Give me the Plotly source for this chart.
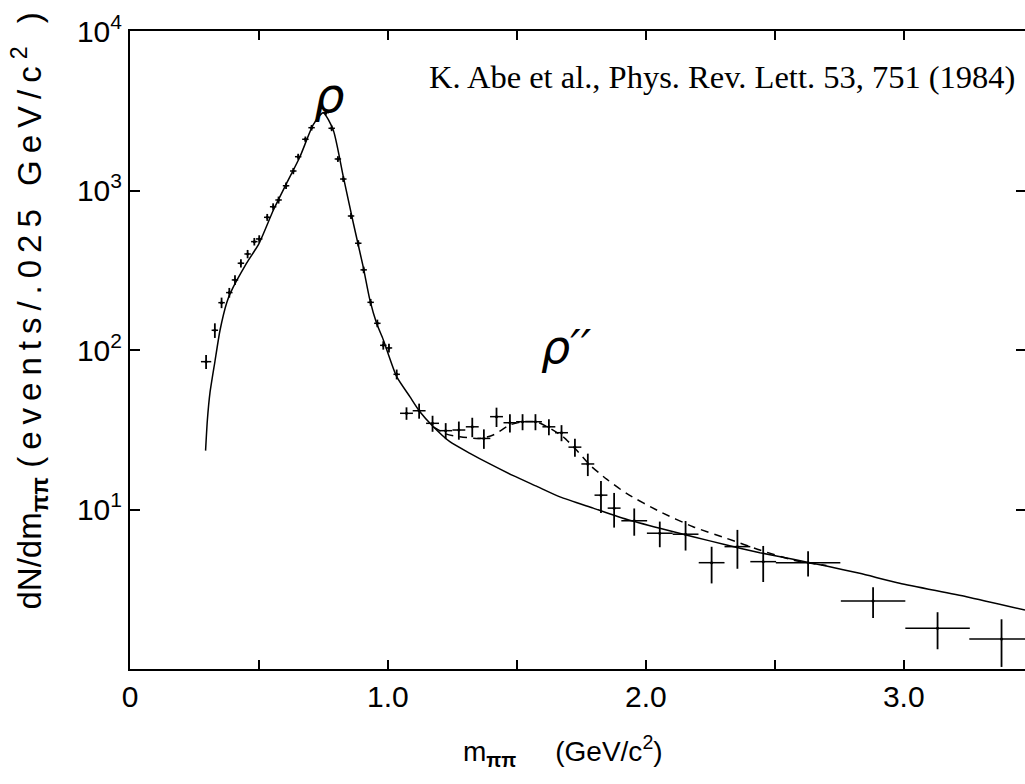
import plotly.graph_objects as go

# ---- data points (m_pipi in GeV/c^2, dN/dm) ----
mass = [0.295, 0.329, 0.355, 0.385, 0.407, 0.430, 0.456, 0.482, 0.501, 0.532,
        0.555, 0.576, 0.605, 0.633, 0.652, 0.680, 0.704, 0.759, 0.782, 0.806,
        0.827, 0.857, 0.885, 0.906, 0.933, 0.959, 0.982, 1.004, 1.034, 1.072,
        1.121, 1.173, 1.224, 1.275, 1.327, 1.372, 1.421, 1.473, 1.522, 1.572,
        1.624, 1.673, 1.725, 1.775, 1.826, 1.877, 1.955, 2.054, 2.154, 2.255,
        2.355, 2.455, 2.629, 2.881, 3.131, 3.379]
counts = [84.5, 133, 198, 229, 275, 350, 400, 478, 497, 679,
          791, 872, 1071, 1325, 1629, 2095, 2476, 3076, 2455, 1576,
          1180, 692, 467, 318, 199, 147, 107, 103, 70.4, 40.1,
          41.6, 34.7, 31.2, 31.5, 33.0, 27.9, 38.2, 35.0, 35.5, 35.5,
          33.0, 30.3, 24.6, 19.3, 12.3, 10.2, 8.5, 7.1, 7.0, 4.64,
          5.85, 4.71, 4.64, 2.67, 1.80, 1.54]
count_err = [8.5, 14, 15, 16, 19, 21, 24, 26, 27, 34,
             40, 44, 50, 60, 70, 85, 100, 120, 100, 65,
             50, 30, 21, 15, 10, 8, 6.5, 6.5, 5, 3.6,
             4.5, 4.0, 3.6, 4.1, 4.6, 3.9, 5.3, 4.6, 4.1, 4.1,
             3.8, 3.5, 3.2, 3.1, 2.8, 2.5, 1.65, 1.3, 1.47, 1.2,
             1.6, 1.2, 0.84, 0.58, 0.47, 0.51]
mass_err = [0.02] + [0.0125] * 28 + [0.025] * 17 + [0.05] * 6 + [0.125] * 4

# ---- fit curve without rho'' (solid) ----
fit_m = [0.293, 0.300, 0.310, 0.329, 0.349, 0.375, 0.390, 0.452, 0.500, 0.556,
         0.607, 0.659, 0.710, 0.749, 0.788, 0.827, 0.866, 0.904, 0.930, 0.956,
         0.982, 1.034, 1.085, 1.124, 1.176, 1.240, 1.318, 1.395, 1.486, 1.576,
         1.667, 1.796, 1.925, 2.054, 2.183, 2.313, 2.442, 2.571, 2.700, 2.829,
         2.984, 3.243, 3.470]
fit_n = [23.4, 36.4, 53.8, 84.1, 133, 198, 229, 350, 465, 755,
         1109, 1629, 2575, 3076, 2395, 1221, 623, 333, 206, 147,
         116, 68, 51, 41, 33, 26.6, 22.5, 19.3, 16.3, 14.0,
         12.0, 10.2, 8.68, 7.62, 6.75, 5.99, 5.36, 4.87, 4.42, 3.98,
         3.45, 2.84, 2.34]

# ---- fit curve with rho'' (dashed) ----
fit2_m = [1.176, 1.227, 1.279, 1.357, 1.408, 1.473, 1.524, 1.576, 1.628, 1.679,
          1.731, 1.783, 1.848, 1.925, 2.054, 2.183, 2.313, 2.442, 2.571, 2.700]
fit2_n = [33.0, 29.7, 28.6, 27.9, 29.3, 33.9, 35.5, 35.5, 32.3, 28.6,
          23.6, 19.0, 15.5, 12.6, 9.7, 7.80, 6.59, 5.57, 4.82, 4.45]

x_tickvals = [0, 0.5, 1.0, 1.5, 2.0, 2.5, 3.0]
x_ticktext = ["0", "", "1.0", "", "2.0", "", "3.0"]
y_tickvals = [1, 10, 100, 1000, 10000]
y_ticktext = ["", "10<sup>1</sup>", "10<sup>2</sup>", "10<sup>3</sup>", "10<sup>4</sup>"]

SANS = "Liberation Sans, Arial, sans-serif"

fig = go.Figure()

fig.add_trace(go.Scatter(x=fit_m, y=fit_n, mode="lines", line_shape="spline",
                         line=dict(color="black", width=1.5, smoothing=0.6), showlegend=False))
fig.add_trace(go.Scatter(x=fit2_m, y=fit2_n, mode="lines", line_shape="spline",
                         line=dict(color="black", width=1.5, dash="8px,6px", smoothing=0.6),
                         showlegend=False))
fig.add_trace(go.Scatter(
    x=mass, y=counts, mode="markers",
    marker=dict(color="black", size=3),
    error_y=dict(type="data", array=count_err, color="black", thickness=1.8, width=0),
    error_x=dict(type="data", array=mass_err, color="black", thickness=1.5, width=0),
    showlegend=False))

# invisible trace on right axis so right-side ticks are drawn
fig.add_trace(go.Scatter(x=[mass[0]], y=[counts[0]], yaxis="y2", mode="markers",
                         marker=dict(opacity=0), showlegend=False, hoverinfo="skip"))

tick_font = dict(family=SANS, size=30, color="black")

fig.update_layout(
    width=1025, height=784,
    margin=dict(l=130, r=0, t=31, b=115),
    paper_bgcolor="white", plot_bgcolor="white",
    xaxis=dict(range=[0, 3.47], tickvals=x_tickvals, ticktext=x_ticktext,
               ticks="inside", ticklen=9, tickwidth=2, tickcolor="black",
               showline=True, linecolor="black", linewidth=2, mirror="ticks",
               showgrid=False, zeroline=False, tickfont=tick_font),
    yaxis=dict(type="log", range=[0, 4], tickvals=y_tickvals, ticktext=y_ticktext,
               ticks="inside", ticklen=10, tickwidth=2, tickcolor="black",
               showline=True, linecolor="black", linewidth=2,
               showgrid=False, zeroline=False, tickfont=tick_font),
    yaxis2=dict(type="log", range=[0, 4], overlaying="y", side="right",
                tickvals=y_tickvals, showticklabels=False,
                ticks="inside", ticklen=9, tickwidth=1.5, tickcolor="black",
                showline=False, showgrid=False, zeroline=False),
    annotations=[
        dict(text=("dN/dm<sub><b>ππ</b></sub> "
                   "<span style=\"letter-spacing:7px\">(events/.025 GeV/c<sup>2</sup> )</span>"),
             xref="paper", yref="paper", x=-0.141, y=0.567, textangle=-90,
             showarrow=False, font=dict(family=SANS, size=33, color="black")),
        dict(text="m<sub><b>ππ</b></sub>     (GeV/c<sup>2</sup>)",
             xref="paper", yref="paper", x=0.484, y=-0.163,
             showarrow=False, font=dict(family=SANS, size=28, color="black")),
        dict(text="<i>ρ</i>", xref="paper", yref="paper", x=0.203, y=0.947,
             showarrow=False, font=dict(family="DejaVu Sans", size=48, color="black")),
        dict(text="<i>ρ′′</i>", xref="paper", yref="paper", x=0.488, y=0.505,
             showarrow=False, font=dict(family="DejaVu Sans", size=46, color="black")),
        dict(text="K. Abe et al., Phys. Rev. Lett. 53, 751 (1984)", xref="paper", yref="paper",
             x=0.991, y=0.96, xanchor="right", showarrow=False,
             font=dict(family="Liberation Serif, Times New Roman, serif", size=32.5, color="black")),
    ],
)

fig.write_html("out.html")
